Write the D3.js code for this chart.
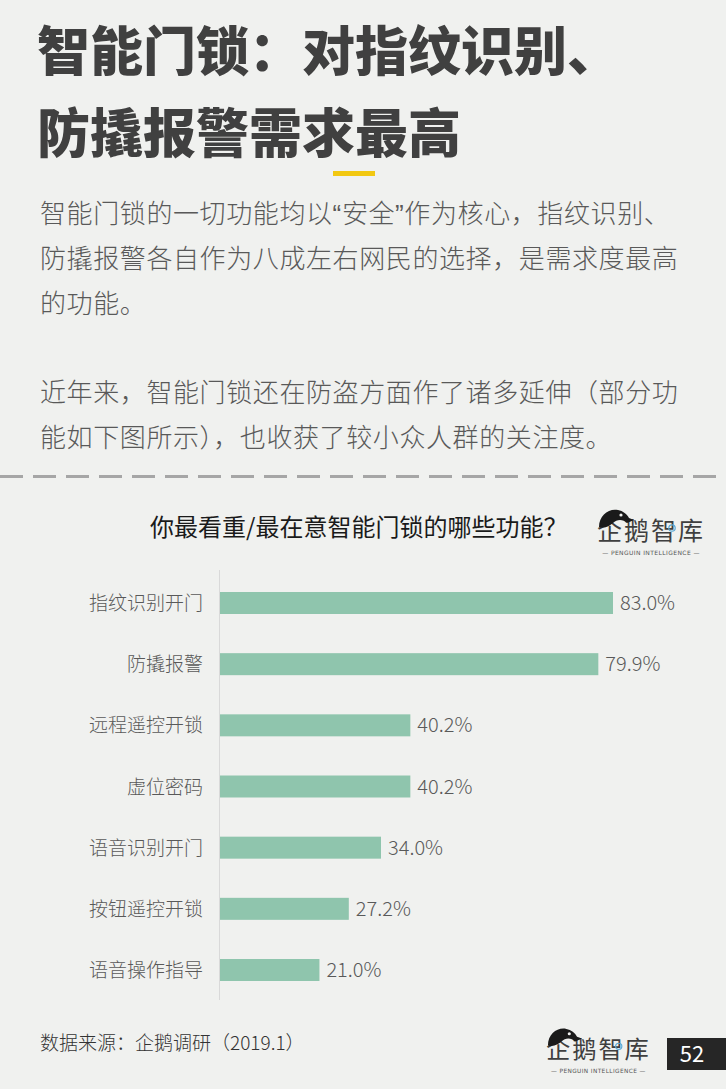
<!DOCTYPE html>
<html><head><meta charset="utf-8">
<script src="https://cdn.jsdelivr.net/npm/d3@7/dist/d3.min.js"></script>
<style>
html,body{margin:0;padding:0;background:#f0f1ef;}
svg{display:block;}
</style></head>
<body>
<script>
const categories = ["指纹识别开门","防撬报警","远程遥控开锁","虚位密码","语音识别开门","按钮遥控开锁","语音操作指导"];
const values = [83.0, 79.9, 40.2, 40.2, 34.0, 27.2, 21.0];
const valueLabels = ["83.0%","79.9%","40.2%","40.2%","34.0%","27.2%","21.0%"];
const titleLines = ["智能门锁：对指纹识别、","防撬报警需求最高"];
const paraLines = ["智能门锁的一切功能均以“安全”作为核心，指纹识别、","防撬报警各自作为八成左右网民的选择，是需求度最高","的功能。","","近年来，智能门锁还在防盗方面作了诸多延伸（部分功","能如下图所示），也收获了较小众人群的关注度。"];
const chartTitle = "你最看重/最在意智能门锁的哪些功能？";
const sourceText = "数据来源：企鹅调研（2019.1）";
const pageNum = "52";

const W = 726, H = 1089;
const F = "'Noto Sans CJK SC','Noto Sans',sans-serif";
const svg = d3.select("body").append("svg").attr("width", W).attr("height", H);
svg.append("rect").attr("width", W).attr("height", H).attr("fill", "#f0f1ef");

// Title
svg.selectAll("text.title").data(titleLines).join("text")
  .attr("class","title")
  .attr("x", 37).attr("y", (d,i)=> 71 + i*82)
  .attr("font-family", F).attr("font-weight", 900).attr("font-size", 53)
  .attr("fill", "#404040")
  .text(d=>d);

svg.append("rect").attr("x", 333).attr("y", 171).attr("width", 42).attr("height", 5).attr("fill", "#f2c811");

// Paragraph (curly quotes set in a Latin font so they stay narrow)
const para = svg.selectAll("text.para").data(paraLines).join("text")
  .attr("class","para")
  .attr("x", 40).attr("y", (d,i)=> 223 + i*44.8)
  .attr("font-family", F).attr("font-weight", 300).attr("font-size", 26)
  .attr("letter-spacing", 0.6)
  .attr("fill", "#595959");
para.each(function(d){
  const t = d3.select(this);
  const parts = d.split(/([“”])/).filter(s=>s.length);
  parts.forEach(p=>{
    const ts = t.append("tspan").text(p);
    if (p === "“" || p === "”") ts.attr("font-family", "'Liberation Sans',sans-serif").attr("font-weight", 400);
  });
});

// dashed separator
svg.append("line").attr("x1", 0).attr("x2", W).attr("y1", 476.5).attr("y2", 476.5)
  .attr("stroke", "#a6a6a6").attr("stroke-width", 3).attr("stroke-dasharray", "23,10");

// Chart title
svg.append("text").attr("x", 150).attr("y", 536)
  .attr("font-family", F).attr("font-weight", 400).attr("font-size", 24)
  .attr("fill", "#1a1a1a").text(chartTitle);

// Logo
function logo(x, y, s) {
  const lg = svg.append("g").attr("transform", `translate(${x},${y}) scale(${s})`);
  lg.append("text").attr("x", 0).attr("y", 0)
    .attr("font-family", F).attr("font-weight", 400).attr("font-size", 25)
    .attr("letter-spacing", 2).attr("fill", "#3f3f3f").text("企鹅智库");
  lg.append("path")
    .attr("d", "M2,-13 C2,-25 12,-32 21,-30 C26,-29 30,-26 32,-22 L37,-20 L30,-17 C26,-21 20,-21 16,-17 C12,-14 8,-11 2,-13 Z")
    .attr("fill", "#1a1a1a");
  lg.append("circle").attr("cx", 24).attr("cy", -25).attr("r", 1.6).attr("fill", "#f0f1ef");
  lg.append("circle").attr("cx", 75).attr("cy", -12).attr("r", 3.2).attr("fill", "none").attr("stroke", "#5aa9d6").attr("stroke-width", 1.2);
  lg.append("text").attr("x", 54).attr("y", 15)
    .attr("text-anchor", "middle")
    .attr("font-family", "'DejaVu Sans',sans-serif").attr("font-size", 6)
    .attr("letter-spacing", 0.4)
    .attr("fill", "#555").text("— PENGUIN INTELLIGENCE —");
}
logo(597, 540, 1);
logo(546, 1058, 0.97);

// Chart
const x = d3.scaleLinear().domain([0, 100]).range([220, 693.5]);
const y = d3.scalePoint().domain(categories).range([603, 970]);
const barH = 22;

svg.append("line").attr("x1", 219.5).attr("x2", 219.5).attr("y1", 570).attr("y2", 1000)
  .attr("stroke", "#d9d9d9").attr("stroke-width", 1);

const rows = svg.selectAll("g.row").data(categories).join("g").attr("class","row");
rows.append("rect")
  .attr("x", x(0)).attr("y", d=> y(d) - barH/2)
  .attr("width", (d,i)=> x(values[i]) - x(0)).attr("height", barH)
  .attr("fill", "#8fc5ad");
rows.append("text")
  .attr("x", 203).attr("y", d=> y(d) + 7)
  .attr("text-anchor", "end")
  .attr("font-family", F).attr("font-weight", 300).attr("font-size", 19)
  .attr("fill", "#595959").text(d=>d);
rows.append("text")
  .attr("x", (d,i)=> x(values[i]) + 7).attr("y", d=> y(d) + 7)
  .attr("font-family", F).attr("font-weight", 300).attr("font-size", 20)
  .attr("fill", "#595959").text((d,i)=> valueLabels[i]);

// Source
svg.append("text").attr("x", 40).attr("y", 1050)
  .attr("font-family", F).attr("font-weight", 300).attr("font-size", 19)
  .attr("fill", "#333").text(sourceText);

// Page number
svg.append("rect").attr("x", 667).attr("y", 1038).attr("width", 59).attr("height", 32).attr("fill", "#262626");
svg.append("text").attr("x", 692).attr("y", 1062).attr("text-anchor", "middle")
  .attr("font-family", F).attr("font-weight", 400).attr("font-size", 22)
  .attr("fill", "#ffffff").text(pageNum);
</script>
</body></html>
